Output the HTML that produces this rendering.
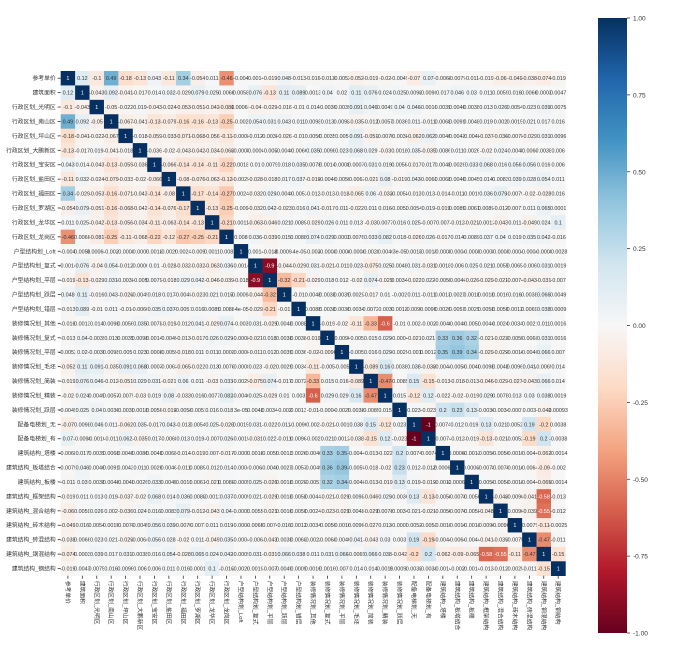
<!DOCTYPE html>
<html><head><meta charset="utf-8">
<style>
html,body{margin:0;padding:0;background:#fff;}
svg{display:block;font-family:"Liberation Sans","Noto Sans CJK SC",sans-serif;}
</style></head>
<body>
<svg id="chart" width="677" height="651" viewBox="0 0 677 651" xmlns="http://www.w3.org/2000/svg">
<defs>
<linearGradient id="cbgrad" x1="0" y1="1" x2="0" y2="0">
<stop offset="0" stop-color="#67001f"/><stop offset="0.1" stop-color="#b2182b"/><stop offset="0.2" stop-color="#d6604d"/><stop offset="0.3" stop-color="#f4a582"/><stop offset="0.4" stop-color="#fddbc7"/><stop offset="0.5" stop-color="#f7f7f7"/><stop offset="0.6" stop-color="#d1e5f0"/><stop offset="0.7" stop-color="#92c5de"/><stop offset="0.8" stop-color="#4393c3"/><stop offset="0.9" stop-color="#2166ac"/><stop offset="1" stop-color="#053061"/>
</linearGradient>
</defs>
<g id="cells"></g>
<g id="ylabels"></g>
<g id="xlabels"></g>
<g id="colorbar">
<rect x="598" y="18" width="29" height="615" fill="url(#cbgrad)"/>
</g>
</svg>
<script>
const labels = ["参考单价","建筑面积","行政区划_光明区","行政区划_南山区","行政区划_坪山区","行政区划_大鹏新区","行政区划_宝安区","行政区划_盐田区","行政区划_福田区","行政区划_罗湖区","行政区划_龙华区","行政区划_龙岗区","户型结构划_Loft","户型结构划_复式","户型结构划_平层","户型结构划_跃层","户型结构划_错层","装修情况划_其他","装修情况划_复式","装修情况划_平层","装修情况划_毛坯","装修情况划_简装","装修情况划_精装","装修情况划_跃层","配备电梯划_无","配备电梯划_有","建筑结构_塔楼","建筑结构_板塔结合","建筑结构_板楼","建筑结构_框架结构","建筑结构_混合结构","建筑结构_砖木结构","建筑结构_砖混结构","建筑结构_钢混结构","建筑结构_钢结构"];
const upper0 = [0.12,-0.1,0.49,-0.18,-0.13,0.043,-0.11,0.34,-0.054,0.011,-0.46,-0.004,-0.0014,-0.019,0.048,-0.013,-0.016,-0.013,-0.0052,-0.052,-0.019,-0.02,-0.0049,-0.07,0.07,-0.0068,-0.0079,-0.011,-0.019,-0.06,-0.049,-0.038,-0.074,-0.019];
const upper1 = [-0.043,0.092,-0.041,-0.017,0.014,0.032,-0.029,0.079,0.025,0.0066,0.0058,0.076,-0.13,0.11,0.089,0.0013,0.04,0.02,0.11,0.076,0.024,0.025,0.0098,-0.0098,0.017,0.046,0.03,0.011,0.0059,0.016,0.0066,0.0003,0.0047];
const upper2 = [-0.05,-0.022,0.019,-0.043,-0.024,-0.053,-0.051,-0.042,-0.081,0.00066,-0.04,-0.029,-0.016,-0.01,0.014,-0.0039,-0.0039,0.091,0.046,0.0049,0.04,0.046,-0.0016,0.0039,0.0046,0.0038,0.013,0.026,0.0054,0.023,0.039,0.0075];
const upper3 = [-0.067,-0.041,-0.13,-0.079,-0.16,-0.16,-0.13,-0.25,-0.002,0.054,0.031,0.043,0.011,0.0098,0.013,0.0098,-0.035,-0.012,0.0057,0.0036,0.011,-0.011,0.0068,0.0091,0.0048,0.019,0.002,0.0015,0.021,0.017,0.016];
const upper4 = [-0.018,-0.059,-0.033,-0.071,-0.068,-0.056,-0.11,-0.0008,-0.012,-0.0038,-0.026,-0.01,0.0056,0.0035,0.005,0.091,-0.051,-0.0075,-0.0038,-0.062,0.062,0.0046,0.0043,-0.0048,-0.037,-0.036,-0.0078,-0.029,0.031,0.0096];
const upper5 = [-0.036,-0.02,-0.043,-0.042,-0.034,-0.068,-0.0005,-0.0006,-0.005,-0.0049,-0.0066,0.035,0.0098,0.023,0.068,0.029,-0.03,0.0018,0.035,-0.035,0.0086,0.011,0.0026,-0.02,0.024,-0.0045,-0.0064,0.0038,0.006];
const upper6 = [-0.066,-0.14,-0.14,-0.11,-0.22,0.0018,0.01,0.0079,0.018,0.035,0.0078,0.0014,0.0008,0.0007,0.031,0.019,0.0056,-0.017,0.017,0.0048,0.0026,0.033,0.068,0.016,0.056,0.056,0.016,0.006];
const upper7 = [-0.08,-0.076,-0.063,-0.12,-0.0029,-0.028,-0.018,0.017,0.037,-0.019,-0.0049,-0.0059,-0.0063,-0.021,0.08,-0.019,0.043,-0.0068,0.0068,0.0046,0.0045,0.014,0.0083,0.039,0.028,0.054,0.011];
const upper8 = [-0.17,-0.14,-0.27,0.0024,-0.032,0.029,-0.0049,-0.0051,-0.012,-0.013,-0.018,-0.065,0.06,-0.033,-0.0058,-0.013,0.013,-0.014,-0.011,-0.0019,0.036,0.079,-0.0079,-0.02,-0.028,0.016];
const upper9 = [-0.13,-0.25,-0.009,-0.032,0.042,-0.023,0.016,0.041,-0.017,0.011,-0.022,0.011,0.016,-0.0051,0.0054,0.019,-0.019,0.0089,0.0061,0.0089,-0.012,-0.0071,0.011,0.065,0.0001];
const upper10 = [-0.21,0.0011,-0.063,-0.046,0.021,0.0089,-0.029,0.026,0.011,0.013,-0.03,0.0077,0.016,0.025,-0.007,0.007,-0.012,-0.021,-0.0012,-0.043,0.011,-0.049,0.024,0.1];
const upper11 = [0.008,0.036,-0.039,0.015,0.0088,0.074,0.029,0.0003,0.0076,0.033,0.082,0.018,-0.026,0.026,-0.017,0.014,0.0089,0.037,0.04,0.019,0.035,0.042,-0.016];
const upper12 = [-0.0014,-0.018,-0.00095,-0.00004,-0.003,-0.0008,-0.0006,-0.0008,-0.0029,-0.0046,0.00003,0.0015,-0.0015,-0.0005,-0.0004,-0.0005,-0.0005,-0.0005,-0.0004,-0.0004,-0.0009,-0.0028];
const upper13 = [-0.9,-0.044,-0.029,0.031,-0.021,-0.011,0.023,-0.075,0.025,0.0048,0.031,-0.031,0.0018,0.006,0.025,0.021,0.0055,0.0065,-0.006,0.031,0.0019];
const upper14 = [-0.32,-0.21,-0.029,0.018,0.012,-0.02,0.074,-0.029,0.0034,-0.022,0.022,-0.0059,-0.0046,-0.026,-0.029,-0.021,-0.0074,-0.043,-0.031,-0.007];
const upper15 = [-0.01,0.0048,0.0038,0.0039,0.0029,-0.017,0.01,-0.002,0.011,-0.011,0.0013,0.0027,0.0018,0.0018,0.0016,0.016,0.0038,0.066,0.0049];
const upper16 = [0.0088,0.0038,0.0036,0.0034,0.0072,0.003,0.0013,-0.0096,0.0096,0.0026,0.0057,0.0029,0.0058,0.0056,0.0012,0.0069,0.038,0.0009];
const upper17 = [-0.019,-0.02,-0.11,-0.33,-0.6,-0.01,0.002,-0.002,-0.0046,-0.0049,-0.0051,0.0044,0.0024,0.0034,-0.0021,0.011,0.0016];
const upper18 = [-0.0096,-0.005,0.015,0.029,-0.0004,-0.021,0.021,0.33,0.36,0.32,-0.021,-0.023,-0.0059,-0.0068,0.031,0.0016];
const upper19 = [-0.005,0.016,0.029,-0.0025,-0.001,0.0012,0.35,0.39,0.34,-0.029,-0.029,-0.0016,-0.0046,0.066,0.007];
const upper20 = [-0.089,0.16,0.0038,0.038,-0.038,-0.0044,-0.0059,-0.0048,0.0098,0.0048,0.0096,0.041,-0.0065,0.014];
const upper21 = [-0.47,-0.0085,0.15,-0.15,-0.013,-0.018,-0.013,-0.046,-0.029,-0.027,-0.043,0.066,0.014];
const upper22 = [0.015,-0.12,0.12,-0.022,-0.02,-0.019,0.029,0.0078,0.013,0.03,0.038,0.0019];
const upper23 = [0.023,-0.023,0.2,0.23,0.13,-0.0036,-0.0034,-0.0007,0.003,-0.042,0.00093];
const upper24 = [-1,0.0074,0.012,0.019,0.13,0.021,0.0052,0.19,-0.2,0.0038];
const upper25 = [-0.0074,-0.012,-0.019,-0.13,-0.021,-0.0052,-0.19,0.2,-0.0038];
const upper26 = [-0.00068,-0.0013,-0.0056,-0.0056,-0.0019,-0.0044,-0.062,-0.0014];
const upper27 = [-0.00061,-0.0078,-0.0076,-0.0016,-0.0064,-0.09,-0.002];
const upper28 = [-0.0056,-0.0058,-0.0018,-0.0044,-0.065,-0.0014];
const upper29 = [-0.048,-0.0096,-0.041,-0.58,-0.013];
const upper30 = [-0.0096,-0.039,-0.55,-0.012];
const upper31 = [-0.0079,-0.11,-0.0025];
const upper32 = [-0.47,-0.011];
const upper33 = [-0.15];
const upperRows = [upper0,upper1,upper2,upper3,upper4,upper5,upper6,upper7,upper8,upper9,upper10,upper11,upper12,upper13,upper14,upper15,upper16,upper17,upper18,upper19,upper20,upper21,upper22,upper23,upper24,upper25,upper26,upper27,upper28,upper29,upper30,upper31,upper32,upper33];
const cbTicks = [1.0,0.75,0.5,0.25,0.0,-0.25,-0.5,-0.75,-1.0];

const N = labels.length;
const X0 = 60.7, Y0 = 71, CELL = 14.42;
const CB_TOP = 18, CB_BOT = 633, CB_X = 627;
const xPos = i => X0 + i * CELL;
const yPos = i => Y0 + i * CELL;
const cbY = v => CB_BOT - (v + 1) / 2 * (CB_BOT - CB_TOP);

const stops = ["#67001f","#b2182b","#d6604d","#f4a582","#fddbc7","#f7f7f7","#d1e5f0","#92c5de","#4393c3","#2166ac","#053061"].map(h=>[parseInt(h.slice(1,3),16),parseInt(h.slice(3,5),16),parseInt(h.slice(5,7),16)]);
function color(v){
  let t = Math.max(0, Math.min(1, (v + 1) / 2)) * 10;
  let i = Math.min(9, Math.floor(t)), f = t - i;
  const a = stops[i], b = stops[i+1];
  return a.map((x,k)=>Math.round(x + (b[k]-x)*f));
}
function fmt(v){
  if (v === 1) return "1";
  if (v === -1) return "-1";
  if (v === 0) return "0";
  const av = Math.abs(v);
  const e = Math.floor(Math.log10(av));
  if (e < -4) {
    let m = (v / Math.pow(10, e)).toPrecision(2).replace(/\.?0+$/,'');
    return m + "e-" + String(-e).padStart(2,'0');
  }
  return String(Number(v.toPrecision(2)));
}
function val(i,j){
  if (i === j) return 1;
  const a = Math.min(i,j), b = Math.max(i,j);
  const r = upperRows[a];
  const v = r ? r[b - a - 1] : undefined;
  return (v === undefined) ? 0 : v;
}
const NS = "http://www.w3.org/2000/svg";
function mk(tag, attrs, parent){
  const el = document.createElementNS(NS, tag);
  for (const k in attrs) el.setAttribute(k, attrs[k]);
  parent.appendChild(el);
  return el;
}
const gCells = document.getElementById('cells');
for (let i = 0; i < N; i++){
  for (let j = 0; j < N; j++){
    const v = val(i,j);
    const c = color(v);
    const r = mk('rect', {x: xPos(j), y: yPos(i), width: CELL + 0.3, height: CELL + 0.3, fill: `rgb(${c[0]},${c[1]},${c[2]})`}, gCells);
    
    
    const lum = (0.299*c[0] + 0.587*c[1] + 0.114*c[2]);
    const t = mk('text', {x: xPos(j) + CELL/2, y: yPos(i) + CELL/2 + 2, 'font-size': 5.4, 'text-anchor': 'middle', fill: lum < 150 ? '#ffffff' : '#333333'}, gCells);
    
    
    t.textContent = fmt(v);
  }
}
const gY = document.getElementById('ylabels');
const gX = document.getElementById('xlabels');
for (let i = 0; i < N; i++){
  const yc = yPos(i) + CELL/2;
  mk('line', {x1: X0 - 3, x2: X0, y1: yc, y2: yc, stroke: '#333', 'stroke-width': 0.8}, gY);
  const t = mk('text', {x: X0 - 5, y: yc + 2, 'font-size': 5.8, 'text-anchor': 'end', fill: '#333'}, gY);
  
  
  t.textContent = labels[i];
  const xc = xPos(i) + CELL/2;
  mk('line', {x1: xc, x2: xc, y1: Y0 + N*CELL, y2: Y0 + N*CELL + 3, stroke: '#333', 'stroke-width': 0.8}, gX);
  const yb = Y0 + N*CELL + 5;
  const tx = mk('text', {x: xc - 2, y: yb, 'font-size': 5.8, 'text-anchor': 'start', fill: '#333', transform: `rotate(90 ${xc - 2} ${yb})`}, gX);
  
  
  tx.textContent = labels[i];
}
const gCb = document.getElementById('colorbar');
cbTicks.forEach(v => {
  const y = cbY(v);
  mk('line', {x1: CB_X, x2: CB_X + 3, y1: y, y2: y, stroke: '#333', 'stroke-width': 0.8}, gCb);
  const t = mk('text', {x: CB_X + 6, y: y + 2.5, 'font-size': 6.5, fill: '#333'}, gCb);
  
  
  t.textContent = v.toFixed(2);
});
</script>
</body></html>
